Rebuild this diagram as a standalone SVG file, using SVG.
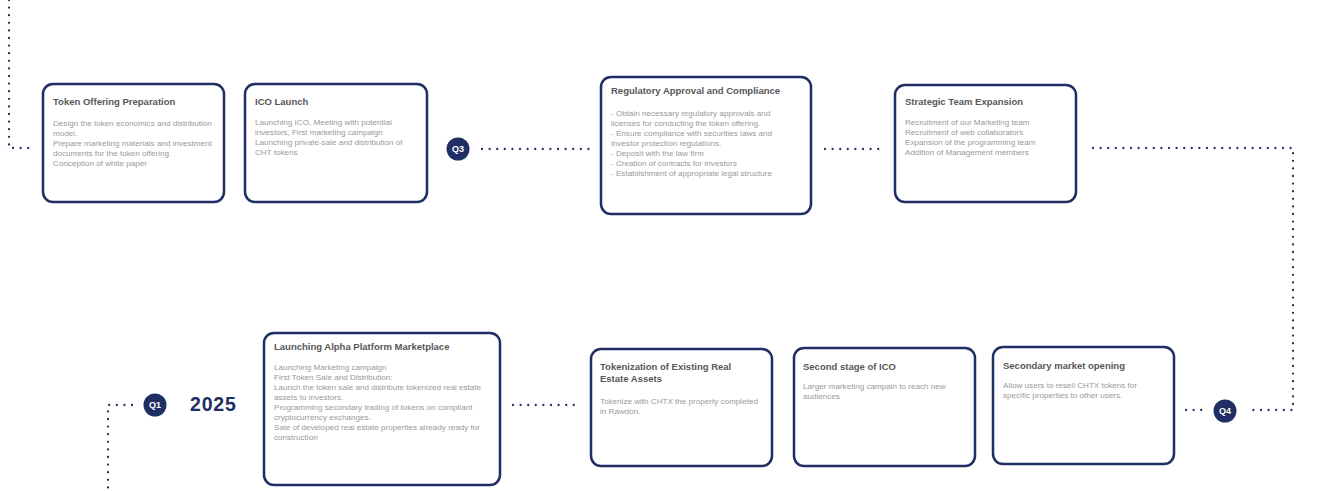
<svg xmlns="http://www.w3.org/2000/svg" width="1337" height="491" viewBox="0 0 1337 491">
<style>
.box{fill:#fff;stroke:#1f2e63;stroke-width:2.5}
.t{font-family:"Liberation Sans",Arial,sans-serif;font-weight:bold;font-size:9.5px;fill:#575757}
.b{font-family:"Liberation Sans",Arial,sans-serif;font-size:8.1px;fill:#999}
.dot{fill:none;stroke:#1f2e63;stroke-width:2.3;stroke-linecap:round;stroke-dasharray:0 7.6}
.qc{fill:#1f2e63}
.ql{font-family:"Liberation Sans",Arial,sans-serif;font-weight:bold;font-size:9px;fill:#fff;text-anchor:middle}
.yr{font-family:"Liberation Sans",Arial,sans-serif;font-weight:bold;font-size:19.5px;letter-spacing:0.8px;fill:#1f2e63}
</style>
<rect width="1337" height="491" fill="#fff"/>
<g id="connectors">
<path class="dot" d="M9 0 V148 H33"/>
<path class="dot" d="M482 149 H590"/>
<path class="dot" d="M825 149 H882"/>
<path class="dot" d="M1093 148 H1293 V410 H1247"/>
<path class="dot" d="M1186 410 H1205"/>
<path class="dot" d="M513 405 H576"/>
<path class="dot" d="M132 405 H108 V491"/>
</g>
<g id="q3"><circle class="qc" cx="458" cy="149" r="11.5"/><text class="ql" x="458" y="152.2">Q3</text></g>
<g id="q4"><circle class="qc" cx="1225" cy="411" r="11.5"/><text class="ql" x="1225" y="414.2">Q4</text></g>
<g id="q1"><circle class="qc" cx="155" cy="405" r="11.5"/><text class="ql" x="155" y="408.2">Q1</text></g>
<g id="year"><text class="yr" x="190" y="411">2025</text></g>
<g id="n1">
<rect class="box" x="43" y="84" width="181" height="118" rx="10"/>
<text class="t" x="53" y="105">Token Offering Preparation</text>
<text class="b" x="53" y="125.5">Design the token economics and distribution</text>
<text class="b" x="53" y="135.5">model.</text>
<text class="b" x="53" y="145.5">Prepare marketing materials and investment</text>
<text class="b" x="53" y="155.5">documents for the token offering.</text>
<text class="b" x="53" y="165.5">Conception of white paper</text>
</g>
<g id="n2">
<rect class="box" x="245" y="84" width="182" height="118" rx="10"/>
<text class="t" x="255" y="105">ICO Launch</text>
<text class="b" x="255" y="125">Launching ICO, Meeting with potential</text>
<text class="b" x="255" y="135">investors, First marketing campaign</text>
<text class="b" x="255" y="145">Launching private-sale and distribution of</text>
<text class="b" x="255" y="155">CHT tokens</text>
</g>
<g id="n3">
<rect class="box" x="601" y="77" width="210" height="137" rx="10"/>
<text class="t" x="611" y="94">Regulatory Approval and Compliance</text>
<text class="b" x="611" y="116">- Obtain necessary regulatory approvals and</text>
<text class="b" x="611" y="126">licenses for conducting the token offering.</text>
<text class="b" x="611" y="136">- Ensure compliance with securities laws and</text>
<text class="b" x="611" y="146">investor protection regulations.</text>
<text class="b" x="611" y="156">- Deposit with the law firm</text>
<text class="b" x="611" y="166">- Creation of contracts for investors</text>
<text class="b" x="611" y="176">- Establishment of appropriate legal structure</text>
</g>
<g id="n4">
<rect class="box" x="895" y="85" width="181" height="117" rx="10"/>
<text class="t" x="905" y="105">Strategic Team Expansion</text>
<text class="b" x="905" y="125">Recruitment of our Marketing team</text>
<text class="b" x="905" y="135">Recruitment of web collaborators</text>
<text class="b" x="905" y="145">Expansion of the programming team</text>
<text class="b" x="905" y="155">Addition of Management members</text>
</g>
<g id="n5">
<rect class="box" x="264" y="333" width="236" height="152" rx="10"/>
<text class="t" x="274" y="350">Launching Alpha Platform Marketplace</text>
<text class="b" x="274" y="370">Launching Marketing campaign</text>
<text class="b" x="274" y="380">First Token Sale and Distribution:</text>
<text class="b" x="274" y="390">Launch the token sale and distribute tokenized real estate</text>
<text class="b" x="274" y="400">assets to investors.</text>
<text class="b" x="274" y="410">Programming secondary trading of tokens on compliant</text>
<text class="b" x="274" y="420">cryptocurrency exchanges.</text>
<text class="b" x="274" y="430">Sale of developed real estate properties already ready for</text>
<text class="b" x="274" y="440">construction</text>
</g>
<g id="n6">
<rect class="box" x="591" y="349" width="181" height="117" rx="10"/>
<text class="t" x="600" y="370">Tokenization of Existing Real</text>
<text class="t" x="600" y="381.5">Estate Assets</text>
<text class="b" x="600" y="404">Tokenize with CHTX the property completed</text>
<text class="b" x="600" y="414">in Rawdon.</text>
</g>
<g id="n7">
<rect class="box" x="794" y="348" width="181" height="118" rx="10"/>
<text class="t" x="803" y="369.5">Second stage of ICO</text>
<text class="b" x="803" y="389">Larger marketing campain to reach new</text>
<text class="b" x="803" y="399">audiences</text>
</g>
<g id="n8">
<rect class="box" x="993" y="347" width="181" height="117" rx="10"/>
<text class="t" x="1003" y="368.5">Secondary market opening</text>
<text class="b" x="1003" y="388">Allow users to resell CHTX tokens for</text>
<text class="b" x="1003" y="398">specific properties to other users.</text>
</g>
</svg>
